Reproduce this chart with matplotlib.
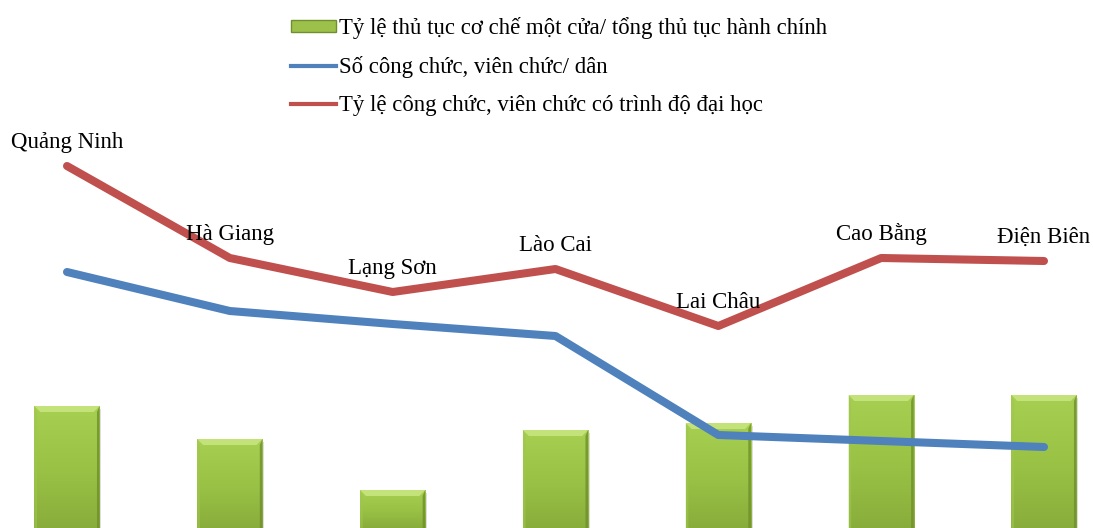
import numpy as np
import matplotlib
matplotlib.use("Agg")
import matplotlib.pyplot as plt
from matplotlib.patches import Rectangle, Polygon, Patch
from matplotlib.lines import Line2D
from matplotlib.colors import LinearSegmentedColormap

# Provinces and indicator values (relative scale)
provinces = ["Quảng Ninh", "Hà Giang", "Lạng Sơn", "Lào Cai", "Lai Châu", "Cao Bằng", "Điện Biên"]
one_stop_ratio = [122, 89, 38, 98, 105, 133, 133]        # bars
staff_per_capita = [256, 217, 204, 192, 93, 87, 81]      # blue line
degree_ratio = [362, 270, 236, 259, 202, 270, 267]       # red line

legend_labels = [
    "Tỷ lệ thủ tục cơ chế một cửa/ tổng thủ tục hành chính",
    "Số công chức, viên chức/ dân",
    "Tỷ lệ công chức, viên chức có trình độ đại học",
]

RED = "#c0504d"
BLUE = "#4f81bd"
serif = ["Liberation Serif", "DejaVu Serif"]

fig = plt.figure(figsize=(10.93, 5.28), dpi=100)
ax = fig.add_axes([0, 0, 1, 1])
ax.set_axis_off()
ax.set_xlim(-0.4115, 6.301)
ax.set_ylim(0, 528)

x = np.arange(len(provinces))
bar_w = 0.4
bev_x = 0.036
bev_y = 6
side = 0.016

green_cmap = LinearSegmentedColormap.from_list("g", ["#89ad3b", "#9ac346", "#a7cf52"])
grad = np.linspace(0, 1, 256).reshape(-1, 1)

bars = ax.bar(x, one_stop_ratio, width=bar_w, color="none", edgecolor="none", zorder=2)
for rect in bars:
    x0, y0 = rect.get_x(), rect.get_y()
    w, h = rect.get_width(), rect.get_height()
    top = y0 + h
    # soft shadow on the right
    ax.add_patch(Rectangle((x0 + w, y0), 0.01, h - 3, color="#c8c8c8", alpha=0.6, lw=0, zorder=1.5))
    im = ax.imshow(grad, cmap=green_cmap, aspect="auto", origin="lower",
                   extent=(x0, x0 + w, y0, top), zorder=2)
    im.set_clip_path(rect)
    # bevel facets
    ax.add_patch(Polygon([(x0, top), (x0 + w, top), (x0 + w - bev_x, top - bev_y), (x0 + bev_x, top - bev_y)],
                         closed=True, color="#c4e27a", lw=0, zorder=2.2))
    ax.add_patch(Polygon([(x0, top), (x0 + side, top - bev_y), (x0 + side, y0), (x0, y0)],
                         closed=True, color="#a0c64e", alpha=0.6, lw=0, zorder=2.1))
    ax.add_patch(Polygon([(x0 + w, top), (x0 + w - side, top - bev_y), (x0 + w - side, y0), (x0 + w, y0)],
                         closed=True, color="#6f8f2c", alpha=0.8, lw=0, zorder=2.1))

ax.plot(x, staff_per_capita, color=BLUE, lw=5.8, solid_capstyle="round",
        solid_joinstyle="round", zorder=3)
ax.plot(x, degree_ratio, color=RED, lw=5.8, solid_capstyle="round",
        solid_joinstyle="round", zorder=3)

for xi, yi, name in zip(x, degree_ratio, provinces):
    ax.annotate(name, (xi, yi), xytext=(0, 17), textcoords="offset points",
                ha="center", va="center", fontsize=16.5, family=serif, color="black", zorder=4)

handles = [
    Patch(facecolor="#9cc04a", edgecolor="#6f8f2f", lw=1),
    Line2D([], [], color=BLUE, lw=3),
    Line2D([], [], color=RED, lw=3),
]
leg = fig.legend(handles, legend_labels, loc="upper left", bbox_to_anchor=(282 / 1093, 1 - 8 / 528),
                 frameon=False, prop={"family": serif, "size": 16.4}, handlelength=1.97,
                 handleheight=0.44, handletextpad=0.13, labelspacing=0.75, borderaxespad=0)

fig.savefig("out.png", dpi=100)
